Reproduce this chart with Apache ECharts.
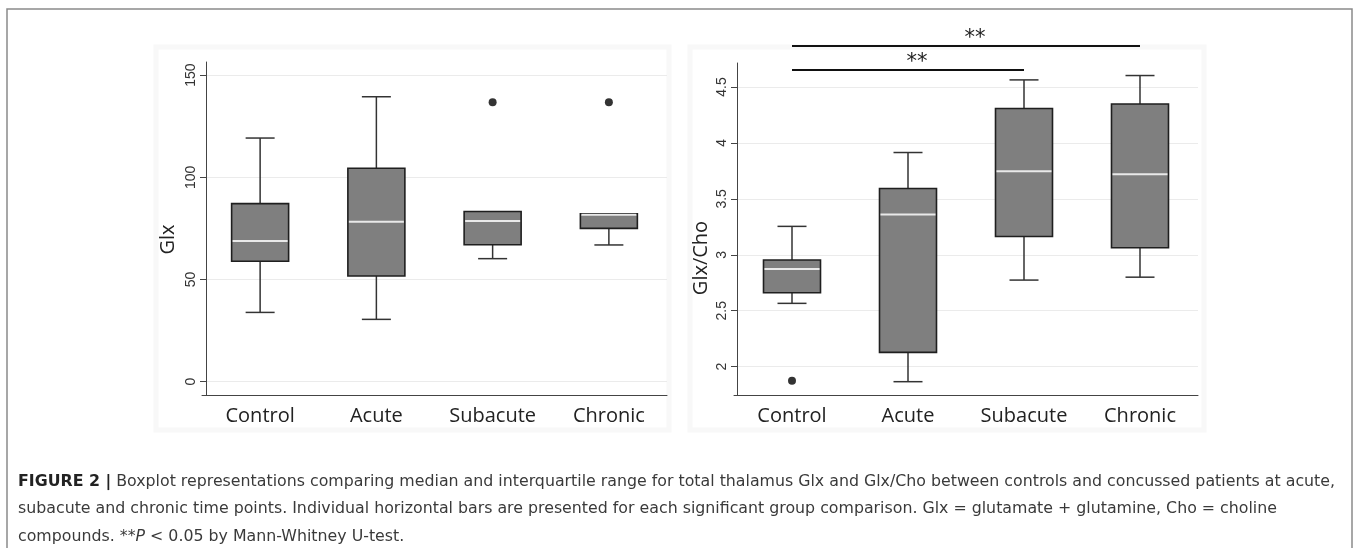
<!DOCTYPE html>
<html>
<head>
<meta charset="utf-8">
<script src="https://cdn.jsdelivr.net/npm/echarts@6/dist/echarts.min.js"></script>
<style>
html,body{margin:0;padding:0;background:#fff;}
#chart{width:1358px;height:548px;}
</style>
</head>
<body>
<div id="chart"></div>
<script>
// ---------- data ----------
const categories = ['Control', 'Acute', 'Subacute', 'Chronic'];

// Left panel: Glx
const glxLow    = [33.9, 30.5, 60.2, 66.9];
const glxQ1     = [58.9, 51.7, 67.0, 75.0];
const glxMedian = [68.8, 78.3, 78.6, 81.7];
const glxQ3     = [87.1, 104.4, 83.3, 82.2];
const glxHigh   = [119.2, 139.4, 83.3, 82.2];
const glxOutliers = [['Subacute', 136.7], ['Chronic', 136.7]];
const glxTicks = [0, 50, 100, 150];

// Right panel: Glx/Cho
const ratioLow    = [2.566, 1.866, 2.774, 2.800];
const ratioQ1     = [2.661, 2.128, 3.164, 3.063];
const ratioMedian = [2.872, 3.361, 3.747, 3.720];
const ratioQ3     = [2.953, 3.593, 4.307, 4.348];
const ratioHigh   = [3.254, 3.914, 4.563, 4.602];
const ratioOutliers = [['Control', 1.875]];
const ratioTicks = [2, 2.5, 3, 3.5, 4, 4.5];

// Significance bars (category index from -> to, height in Glx/Cho units)
const sigFrom  = [0, 0];
const sigTo    = [2, 3];
const sigLevel = [4.652, 4.866];
const sigLabel = ['**', '**'];

const captionLines = [
  '{b|FIGURE 2 |} Boxplot representations comparing median and interquartile range for total thalamus Glx and Glx/Cho between controls and concussed patients at acute,',
  'subacute and chronic time points. Individual horizontal bars are presented for each significant group comparison. Glx = glutamate + glutamine, Cho = choline',
  'compounds. **{i|P} < 0.05 by Mann-Whitney U-test.'
];

// ---------- rendering ----------
const BOX_W = 57, CAP_W = 29;
const boxFill = '#7f7f7f', boxStroke = '#1f1f1f', whiskerColor = '#333', medianColor = '#e9e9e9';

function boxData(low, q1, med, q3, high) {
  return categories.map((c, i) => [i, low[i], q1[i], med[i], q3[i], high[i]]);
}

function renderBox(params, api) {
  const i = api.value(0);
  const pLow = api.coord([i, api.value(1)]);
  const pQ1 = api.coord([i, api.value(2)]);
  const pMed = api.coord([i, api.value(3)]);
  const pQ3 = api.coord([i, api.value(4)]);
  const pHigh = api.coord([i, api.value(5)]);
  const x = pMed[0];
  const ls = { stroke: whiskerColor, lineWidth: 1.5 };
  const children = [];
  if (pHigh[1] < pQ3[1] - 0.5) {
    children.push({ type: 'line', shape: { x1: x, y1: pQ3[1], x2: x, y2: pHigh[1] }, style: ls });
    children.push({ type: 'line', shape: { x1: x - CAP_W / 2, y1: pHigh[1], x2: x + CAP_W / 2, y2: pHigh[1] }, style: ls });
  }
  if (pLow[1] > pQ1[1] + 0.5) {
    children.push({ type: 'line', shape: { x1: x, y1: pQ1[1], x2: x, y2: pLow[1] }, style: ls });
    children.push({ type: 'line', shape: { x1: x - CAP_W / 2, y1: pLow[1], x2: x + CAP_W / 2, y2: pLow[1] }, style: ls });
  }
  children.push({
    type: 'rect',
    shape: { x: x - BOX_W / 2, y: pQ3[1], width: BOX_W, height: pQ1[1] - pQ3[1] },
    style: { fill: boxFill, stroke: boxStroke, lineWidth: 1.6 }
  });
  children.push({
    type: 'line',
    shape: { x1: x - BOX_W / 2 + 1, y1: pMed[1], x2: x + BOX_W / 2 - 1, y2: pMed[1] },
    style: { stroke: medianColor, lineWidth: 2 }
  });
  return { type: 'group', children };
}

function renderSig(params, api) {
  const y = api.value(2);
  const p1 = api.coord([api.value(0), y]);
  const p2 = api.coord([api.value(1), y]);
  return {
    type: 'group',
    children: [
      { type: 'line', shape: { x1: p1[0], y1: p1[1], x2: p2[0], y2: p2[1] }, style: { stroke: '#111', lineWidth: 2 } },
      { type: 'text', x: (p1[0] + p2[0]) / 2 + 9, y: p1[1] + 3,
        style: { text: sigLabel[params.dataIndex], fontFamily: 'DejaVu Sans', fontSize: 21, fill: '#222', align: 'center', verticalAlign: 'bottom' } }
    ]
  };
}

const catAxis = (gridIndex) => ({
  type: 'category', gridIndex, data: categories,
  axisLine: { onZero: false, lineStyle: { color: '#444', width: 1 } },
  axisTick: { show: false },
  axisLabel: { fontFamily: 'Open Sans', fontSize: 20, color: '#222', margin: 11 },
  splitLine: { show: false }
});

const valAxis = (gridIndex, min, max, ticks, name, offset, namePad, nameGap) => ({
  type: 'value', gridIndex, min, max, offset,
  name, nameLocation: 'middle', nameGap,
  nameTextStyle: { fontFamily: 'Open Sans', fontSize: 20, color: '#222', padding: namePad },
  axisLine: { show: true, onZero: false, lineStyle: { color: '#444', width: 1 } },
  axisTick: { show: true, length: 6, lineStyle: { color: '#444' }, customValues: ticks },
  axisLabel: { rotate: 90, fontFamily: 'Liberation Sans', fontSize: 14, color: '#333', margin: 8, customValues: ticks },
  splitLine: { show: true, lineStyle: { color: '#ebebeb', width: 1 } }
});

const chart = echarts.init(document.getElementById('chart'), null, { renderer: 'canvas' });

const option = {
  animation: false,
  backgroundColor: '#fff',
  grid: [
    { left: 202, top: 62, width: 465, height: 333 },
    { left: 734, top: 63, width: 464, height: 332 }
  ],
  xAxis: [catAxis(0), catAxis(1)],
  yAxis: [
    valAxis(0, -6.5, 156.4, glxTicks, 'Glx', -4, [0, 22, 0, 0], 28),
    valAxis(1, 1.747, 4.714, ratioTicks, 'Glx/Cho', -3, [0, 58, 0, 0], 26)
  ],
  graphic: [
    { type: 'rect', z: -10, shape: { x: 156, y: 47, width: 513, height: 383 }, style: { fill: 'none', stroke: '#f8f8f8', lineWidth: 5 } },
    { type: 'rect', z: -10, shape: { x: 690, y: 47, width: 514, height: 383 }, style: { fill: 'none', stroke: '#f8f8f8', lineWidth: 5 } },
    { type: 'rect', shape: { x: 7, y: 9, width: 1345, height: 700 }, style: { fill: 'none', stroke: '#8a8a8a', lineWidth: 1.5 } }
  ].concat(captionLines.map((t, k) => ({
    type: 'text', left: 18, top: 474 + k * 27.2,
    style: {
      text: t, fontFamily: 'DejaVu Sans', fontSize: 15.8, fill: '#3a3a3a',
      rich: {
        b: { fontFamily: 'DejaVu Sans', fontSize: 15.8, fontWeight: 'bold', fill: '#222' },
        i: { fontFamily: 'DejaVu Sans', fontSize: 15.8, fontStyle: 'italic', fill: '#3a3a3a' }
      }
    }
  }))),
  series: [
    { type: 'custom', xAxisIndex: 0, yAxisIndex: 0, renderItem: renderBox, data: boxData(glxLow, glxQ1, glxMedian, glxQ3, glxHigh), clip: false },
    { type: 'scatter', xAxisIndex: 0, yAxisIndex: 0, data: glxOutliers, symbolSize: 8, itemStyle: { color: '#000' } },
    { type: 'custom', xAxisIndex: 1, yAxisIndex: 1, renderItem: renderBox, data: boxData(ratioLow, ratioQ1, ratioMedian, ratioQ3, ratioHigh), clip: false },
    { type: 'scatter', xAxisIndex: 1, yAxisIndex: 1, data: ratioOutliers, symbolSize: 8, itemStyle: { color: '#000' } },
    { type: 'custom', xAxisIndex: 1, yAxisIndex: 1, renderItem: renderSig, clip: false,
      data: sigFrom.map((f, i) => [f, sigTo[i], sigLevel[i]]) }
  ]
};
chart.setOption(option);
</script>
</body>
</html>
